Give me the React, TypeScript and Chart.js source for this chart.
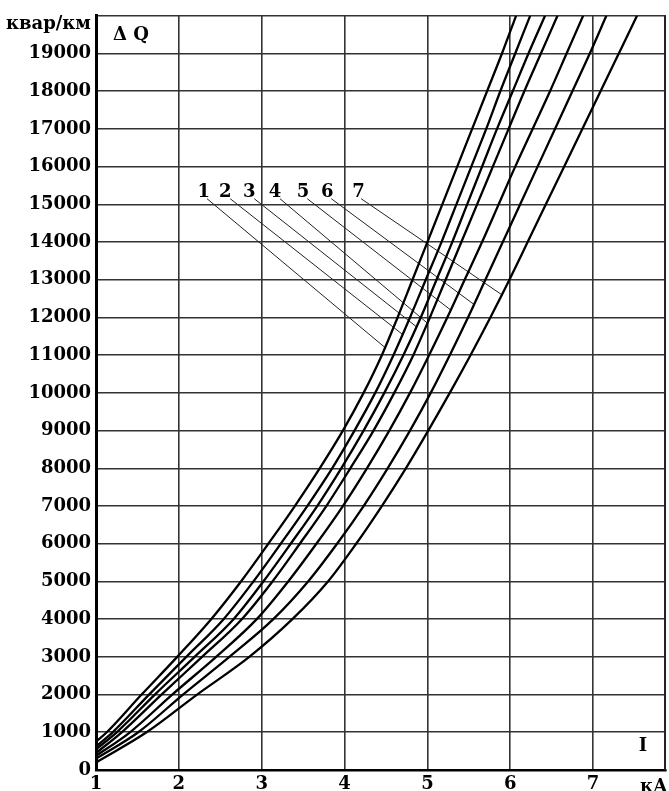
import React, { useEffect, useRef } from "react";
import { Chart, registerables } from "chart.js";

Chart.register(...registerables);

// Q levels (квар/км) at which the current I (кА) of each curve was read
const qLevels = [1000, 2000, 3000, 4000, 5000, 6000, 7000, 8000, 9000, 10000, 11000, 12000, 13000, 14000, 15000, 16000, 17000, 18000, 19000, 20000];
// Q value of each curve at I = 1 кА
const startQ = [750, 625, 550, 450, 375, 300, 200];
const curve1 = [1.13, 1.55, 1.98, 2.39, 2.75, 3.08, 3.40, 3.70, 3.98, 4.23, 4.45, 4.64, 4.82, 5.00, 5.18, 5.36, 5.54, 5.72, 5.90, 6.07];
const curve2 = [1.20, 1.64, 2.09, 2.54, 2.90, 3.23, 3.55, 3.85, 4.12, 4.37, 4.59, 4.79, 4.98, 5.17, 5.35, 5.53, 5.71, 5.88, 6.06, 6.24];
const curve3 = [1.25, 1.71, 2.19, 2.66, 3.02, 3.35, 3.67, 3.96, 4.23, 4.48, 4.71, 4.92, 5.11, 5.30, 5.48, 5.66, 5.84, 6.03, 6.22, 6.42];
const curve4 = [1.31, 1.79, 2.28, 2.76, 3.13, 3.46, 3.78, 4.07, 4.35, 4.60, 4.83, 5.03, 5.22, 5.41, 5.60, 5.79, 5.98, 6.17, 6.37, 6.57];
const curve5 = [1.41, 1.92, 2.45, 2.94, 3.32, 3.66, 3.98, 4.27, 4.54, 4.79, 5.02, 5.24, 5.45, 5.66, 5.86, 6.06, 6.27, 6.48, 6.68, 6.88];
const curve6 = [1.51, 2.05, 2.61, 3.14, 3.56, 3.91, 4.23, 4.52, 4.79, 5.04, 5.27, 5.49, 5.70, 5.91, 6.12, 6.33, 6.54, 6.75, 6.96, 7.16];
const curve7 = [1.61, 2.22, 2.85, 3.37, 3.80, 4.14, 4.45, 4.74, 5.01, 5.27, 5.52, 5.76, 5.99, 6.21, 6.43, 6.65, 6.87, 7.09, 7.31, 7.53];
const curves = [curve1, curve2, curve3, curve4, curve5, curve6, curve7];

// curve labels and leader lines
const curveNames = ["1", "2", "3", "4", "5", "6", "7"];
const labelI = [2.30, 2.56, 2.85, 3.16, 3.50, 3.79, 4.17];
const labelQ = 15320;
const leaderStartI = [2.34, 2.62, 2.91, 3.22, 3.55, 3.84, 4.20];
const leaderStartQ = 15150;
const leaderEndI = [4.49, 4.70, 4.87, 5.00, 5.28, 5.56, 5.90];
const leaderEndQ = [11200, 11550, 11750, 11850, 12200, 12350, 12600];

// axes
const xMin = 1;
const xMax = 7.88;
const yMin = 0;
const yMax = 20000;
const yUnit = "квар/км";
const xUnit = "кА";
const yName = "Δ Q";
const xName = "I";

const FONT = 'bold 18px "DejaVu Serif", serif';

const overlay = {
  id: "overlay",
  afterDraw(chart: any) {
    const { ctx, chartArea } = chart;
    const x = chart.scales.x;
    const y = chart.scales.y;
    ctx.save();
    ctx.strokeStyle = "#222";
    ctx.lineWidth = 2;
    ctx.beginPath();
    ctx.moveTo(chartArea.right - 1, chartArea.top);
    ctx.lineTo(chartArea.right - 1, chartArea.bottom);
    ctx.stroke();

    ctx.fillStyle = "#000";
    ctx.font = FONT;
    ctx.textBaseline = "middle";
    ctx.textAlign = "center";
    curveNames.forEach((n, i) => {
      ctx.fillText(n, x.getPixelForValue(labelI[i]), y.getPixelForValue(labelQ));
    });
    ctx.textAlign = "right";
    ctx.fillText(yUnit, chartArea.left - 5, chartArea.top + 9);
    ctx.textAlign = "left";
    ctx.fillText(yName, chartArea.left + 17, chartArea.top + 20);
    ctx.textAlign = "center";
    ctx.fillText(xName, chartArea.right - 23, chartArea.bottom - 24);
    ctx.textAlign = "left";
    ctx.fillText(xUnit, chartArea.right - 26, chartArea.bottom + 17);
    ctx.restore();
  },
};

export default function App() {
  const ref = useRef<HTMLCanvasElement>(null);
  useEffect(() => {
    if (!ref.current) return;
    const curveSets = curves.map((c, k) => ({
      label: "curve " + curveNames[k],
      data: [{ x: 1, y: startQ[k] }, ...c.map((v, i) => ({ x: v, y: qLevels[i] }))],
      showLine: true,
      borderColor: "#000",
      borderWidth: 2.3,
      pointRadius: 0,
      cubicInterpolationMode: "monotone" as const,
      fill: false,
    }));
    const leaderSets = curveNames.map((n, k) => ({
      label: "leader " + n,
      data: [
        { x: leaderStartI[k], y: leaderStartQ },
        { x: leaderEndI[k], y: leaderEndQ[k] },
      ],
      showLine: true,
      borderColor: "#222",
      borderWidth: 1,
      pointRadius: 0,
      tension: 0,
      fill: false,
    }));
    const chart = new Chart(ref.current, {
      type: "scatter",
      data: { datasets: [...curveSets, ...leaderSets] },
      options: {
        animation: false,
        responsive: false,
        devicePixelRatio: 1,
        layout: { padding: { top: 13, right: 3, left: 0, bottom: 0 } },
        plugins: { legend: { display: false }, tooltip: { enabled: false } },
        scales: {
          x: {
            type: "linear",
            min: xMin,
            max: xMax,
            afterFit: (s: any) => {
              s.height = 21;
            },
            ticks: {
              stepSize: 1,
              includeBounds: false,
              padding: 4,
              color: "#000",
              font: { family: '"DejaVu Serif", serif', size: 18, weight: "bold" },
              callback: (v: any) => (Number.isInteger(v) ? String(v) : ""),
            },
            grid: { color: "#333", lineWidth: 1.6, drawTicks: false },
            border: { display: true, color: "#000", width: 2.5 },
          },
          y: {
            type: "linear",
            min: yMin,
            max: yMax,
            afterFit: (s: any) => {
              s.width = 96;
            },
            ticks: {
              stepSize: 1000,
              padding: 5,
              color: "#000",
              font: { family: '"DejaVu Serif", serif', size: 18, weight: "bold" },
              callback: (v: any) => (v === yMax ? "" : String(v)),
            },
            grid: { color: "#333", lineWidth: 1.6, drawTicks: false },
            border: { display: true, color: "#000", width: 3 },
          },
        },
      },
      plugins: [overlay],
    } as any);
    return () => chart.destroy();
  }, []);
  return (
    <div style={{ position: "absolute", left: 0, top: 0, width: 669, height: 791, background: "#fff" }}>
      <canvas ref={ref} width={669} height={791} style={{ display: "block" }} />
    </div>
  );
}
